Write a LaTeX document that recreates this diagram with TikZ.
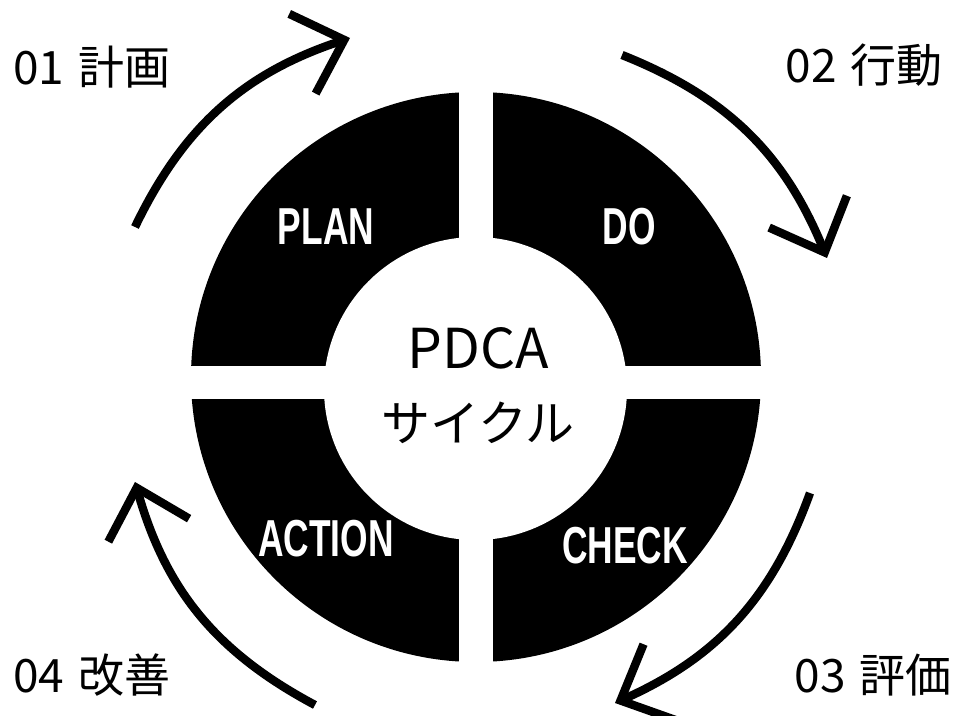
\documentclass[tikz,border=0pt]{standalone}
\usepackage{fontspec}
\newfontfamily\jpfont{Noto Sans CJK JP}
\newfontfamily\segfont[FakeStretch=0.68]{Liberation Sans}
\usetikzlibrary{arrows.meta}

\begin{document}
\begin{tikzpicture}[x=0.5pt, y=0.5pt,
   seg/.style={text=white, inner sep=0pt, anchor=base,
      font=\segfont\bfseries\fontsize{26}{26}\selectfont},
   tag/.style={inner sep=0pt, font=\jpfont\fontsize{23}{23}\selectfont},
   cyc/.style={line width=4.2pt, -{Straight Barb[length=22pt, width=42pt]}}]
   \useasboundingbox (-476,-339) rectangle (481,377);

   \fill[black] (0,0) circle[radius=285];
   \fill[white] (-0.5,-11.5) circle[radius=151.5];
   \fill[white] (-17,-300) rectangle (17,300);
   \fill[white] (-300,-22) rectangle (300,11);

   \node[seg] (plan) at (-150,132) {PLAN};
   \node[seg] (do) at (153,132) {DO};
   \node[seg] (check) at (149,-186) {CHECK};
   \node[seg] (action) at (-150,-180) {ACTION};

   \node[anchor=base, inner sep=0pt, font=\jpfont\fontsize{27.5}{27.5}\selectfont] (pdca) at (2,8) {PDCA};
   \node[inner sep=0pt, font=\jpfont\fontsize{24.5}{24.5}\selectfont] (cycle) at (2,-46) {サイクル};

   \coordinate (s1) at (-341,150);
   \coordinate (t1) at (-126,339);
   \coordinate (s2) at (146,322);
   \coordinate (t2) at (351,119);
   \coordinate (s3) at (334,-116);
   \coordinate (t3) at (139,-326);
   \coordinate (s4) at (-161,-328);
   \coordinate (t4) at (-341,-105);

   \draw[cyc] (s1) to [bend left=23] (t1);
   \draw[cyc] (s2) to [bend left=23] (t2);
   \draw[cyc] (s3) to [bend left=23] (t3);
   \draw[cyc] (s4) to [bend left=23] (t4);

   \node[tag, anchor=base west] (l1) at (-463,292) {01\hspace{0.3em}計画};
   \node[tag, anchor=base east] (l2) at (467,294) {02\hspace{0.3em}行動};
   \node[tag, anchor=base east] (l3) at (476,-315) {03\hspace{0.3em}評価};
   \node[tag, anchor=base west] (l4) at (-463,-315) {04\hspace{0.3em}改善};
\end{tikzpicture}
\end{document}
